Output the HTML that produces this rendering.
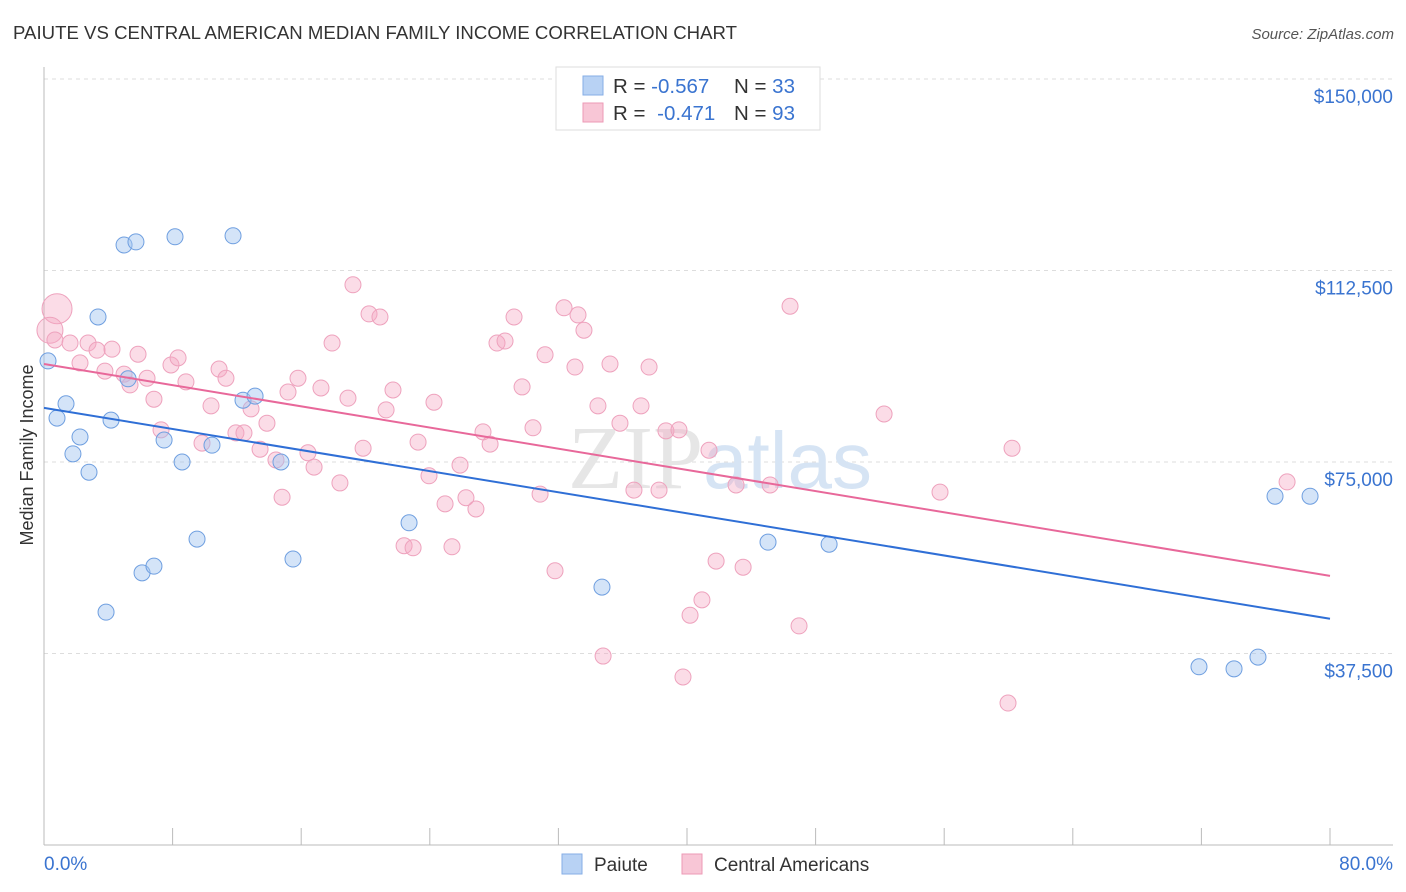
<!DOCTYPE html>
<html><head><meta charset="utf-8"><style>
body{margin:0;background:#fff;font-family:"Liberation Sans",sans-serif;}
svg{display:block}
</style></head><body>
<svg id="chart" width="1406" height="892" viewBox="0 0 1406 892" xmlns="http://www.w3.org/2000/svg">
<text x="13" y="39" font-size="18.6" fill="#333" textLength="724">PAIUTE VS CENTRAL AMERICAN MEDIAN FAMILY INCOME CORRELATION CHART</text>
<text x="1394" y="39" font-size="15" fill="#555" text-anchor="end" font-style="italic">Source: ZipAtlas.com</text>
<g id="grid"></g>
<text x="720" y="488" font-size="90" text-anchor="middle" fill="#e6e6e6" font-family="Liberation Serif,serif">ZIP<tspan fill="#d6e4f4" font-family="Liberation Sans,sans-serif" font-size="80">atlas</tspan></text>
<g id="axes"></g>
<g id="pts"></g>
<g id="trends"></g>
<text transform="translate(33,455) rotate(-90)" font-size="18" fill="#333" text-anchor="middle">Median Family Income</text>
<g>
<rect x="556" y="67" width="264" height="63" fill="#fff" stroke="#ddd"/>
<rect x="583" y="76" width="20" height="19" fill="#b8d2f4" stroke="#86aee6"/>
<rect x="583" y="103" width="20" height="19" fill="#f8c6d6" stroke="#ec9ab6"/>
<text x="613" y="93" font-size="20.5" fill="#333">R = <tspan fill="#3a74d0">-0.567</tspan><tspan x="734">N = </tspan><tspan fill="#3a74d0">33</tspan></text>
<text x="613" y="120" font-size="20.5" fill="#333">R = <tspan fill="#3a74d0" dx="6">-0.471</tspan><tspan x="734">N = </tspan><tspan fill="#3a74d0">93</tspan></text>
</g>
<g>
<rect x="562" y="854" width="20" height="20" fill="#b8d2f4" stroke="#86aee6"/>
<text x="594" y="871" font-size="19" fill="#333">Paiute</text>
<rect x="682" y="854" width="20" height="20" fill="#f8c6d6" stroke="#ec9ab6"/>
<text x="714" y="871" font-size="19" fill="#333">Central Americans</text>
</g>
</svg>
<script>
const blueX=[0.25,0.81,1.37,1.80,2.24,2.80,3.36,3.86,4.17,4.98,5.72,5.23,6.10,6.84,7.47,8.15,8.59,9.52,10.45,11.76,12.38,13.13,14.74,15.49,22.71,34.71,45.04,48.84,71.85,74.03,75.52,76.58,78.76];
const blueY=[94.8,83.6,86.4,76.6,79.9,73.0,103.4,45.6,83.2,117.5,118.1,91.3,53.3,54.6,79.3,119.1,75.0,59.9,78.3,119.3,87.1,87.9,75.0,56.0,63.1,50.5,59.3,58.9,34.9,34.5,36.8,68.3,68.3];
const pinkX=[0.81,0.37,0.68,1.62,2.74,3.30,4.23,2.24,3.79,4.98,5.85,5.35,6.41,6.84,7.28,7.90,8.34,8.83,9.83,10.39,10.89,11.32,11.94,12.44,12.88,13.44,13.87,14.43,14.81,15.18,15.80,16.42,16.80,17.23,17.92,18.41,18.91,19.22,19.85,20.22,20.90,21.28,21.71,22.40,22.96,23.27,23.95,24.26,24.95,25.38,25.88,26.25,26.87,27.31,27.75,28.18,28.68,29.24,29.74,30.42,30.86,31.17,31.79,32.35,33.03,33.22,33.59,34.46,34.78,35.21,35.83,36.70,37.14,37.64,38.26,38.69,39.50,39.75,40.19,40.93,41.37,41.81,43.05,43.49,45.17,46.41,46.97,52.26,55.74,59.97,60.22,77.33];
const pinkY=[105.0,100.8,98.9,98.3,98.3,96.9,97.1,94.4,92.8,92.2,96.1,90.1,91.4,87.3,81.3,94.0,95.4,90.7,78.7,86.0,93.2,91.4,80.7,80.7,85.4,77.5,82.6,75.4,68.1,88.7,91.4,76.8,74.0,89.5,98.3,70.9,87.5,109.7,77.7,104.0,103.4,85.2,89.1,58.6,58.2,78.9,72.3,86.7,66.8,58.4,74.4,68.0,65.8,80.9,78.5,98.3,98.7,103.4,89.7,81.7,68.7,96.0,53.7,105.2,93.6,103.8,100.8,86.0,37.0,94.2,82.6,69.5,86.0,93.6,69.5,81.1,81.3,32.9,45.0,48.0,77.3,55.6,70.5,54.4,70.5,105.5,42.9,84.4,69.1,27.8,77.7,71.1];
const pinkR=[15,13];
const blueTrend=[85.6,44.3];
const pinkTrend=[94.2,52.7];
const yTicks=[150000,112500,75000,37500];
const yTickLabels=["$150,000","$112,500","$75,000","$37,500"];
const NS="http://www.w3.org/2000/svg";
const X=p=>44+p/80*1286;
const Y=v=>845-v/150*766;
function mk(tag,attrs,parent){const e=document.createElementNS(NS,tag);for(const k in attrs)e.setAttribute(k,attrs[k]);parent.appendChild(e);return e;}
const grid=document.getElementById('grid'),axes=document.getElementById('axes');
yTicks.forEach((t,i)=>{
 const y=Y(t/1000);
 const l=mk('line',{x1:44,x2:1393,y1:y,y2:y,stroke:'#ddd','stroke-dasharray':'4,4'},grid);
 
 
 const tx=mk('text',{x:1393,y:y+24,'font-size':19,fill:'#3a74d0','text-anchor':'end'},axes);
 tx.textContent=yTickLabels[i];
 
 
});
mk('line',{x1:44,x2:44,y1:67,y2:845,stroke:'#bbb'},axes);
mk('line',{x1:44,x2:1393,y1:845,y2:845,stroke:'#bbb'},axes);
for(let i=0;i<=10;i++){const x=X(i*8);const t=mk('line',{x1:x,x2:x,y1:828,y2:845,stroke:'#bbb'},axes);
 
 }
let a=mk('text',{x:44,y:870,'font-size':19,fill:'#3a74d0'},axes);a.textContent='0.0%';


a=mk('text',{x:1393,y:870,'font-size':19,fill:'#3a74d0','text-anchor':'end'},axes);a.textContent='80.0%';


const pts=document.getElementById('pts');
pinkX.forEach((x,i)=>{const c=mk('circle',{cx:X(x),cy:Y(pinkY[i]),r:pinkR[i]||8,fill:'rgba(244,168,194,0.4)',stroke:'#eea2bd','stroke-width':1},pts);
 
 });
blueX.forEach((x,i)=>{const c=mk('circle',{cx:X(x),cy:Y(blueY[i]),r:8,fill:'rgba(160,196,240,0.45)',stroke:'#6f9fe0','stroke-width':1},pts);
 
 });
const tr=document.getElementById('trends');
let l=mk('line',{x1:X(0),y1:Y(blueTrend[0]),x2:X(80),y2:Y(blueTrend[1]),stroke:'#2f6fd6','stroke-width':2},tr);


l=mk('line',{x1:X(0),y1:Y(pinkTrend[0]),x2:X(80),y2:Y(pinkTrend[1]),stroke:'#e8689a','stroke-width':2},tr);


</script>
</body></html>
